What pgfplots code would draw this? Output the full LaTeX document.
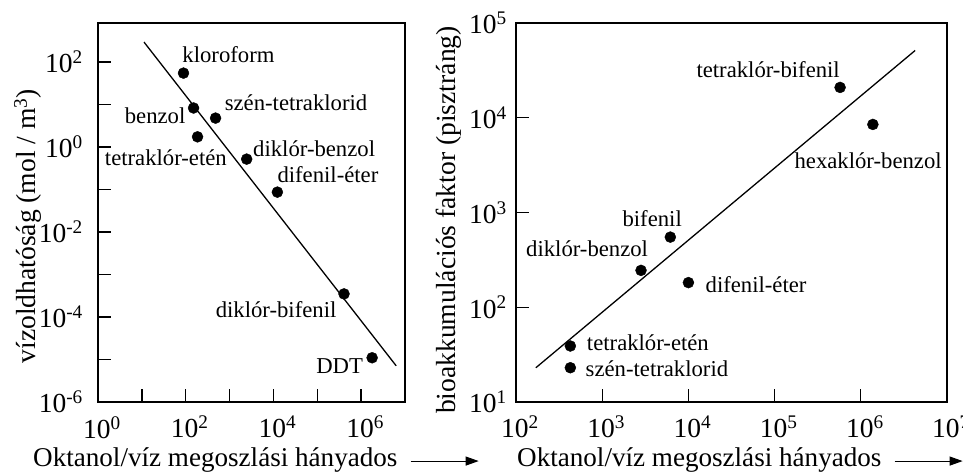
\documentclass[border=0pt]{standalone}
\usepackage{fontspec}
\setmainfont{Liberation Serif}
\usepackage{pgfplots}
\pgfplotsset{compat=1.18}
\usetikzlibrary{arrows.meta}
\newcommand{\e}[1]{10\textsuperscript{#1}}
\newcommand{\tickf}{\fontsize{27.5}{30}\selectfont}
\newcommand{\labf}{\fontsize{27.1}{31}\selectfont}
\newcommand{\ylabf}{\fontsize{27.6}{31}\selectfont}
\tikzset{
  lbl/.style={anchor=base, inner sep=0pt, font=\fontsize{22.7}{26}\selectfont},
  arr/.style={line width=1.1pt, -{Stealth[length=13pt,width=9pt,inset=0pt]}},
}
\pgfplotsset{
  every axis/.append style={scale only axis, clip=false,
    axis line style={line width=1.6pt},
    tick align=inside, tick pos=left,
    major tick length=13pt,
    xminorticks=false, yminorticks=false,
    xticklabel style={font=\tickf, anchor=north, inner sep=0pt, yshift=-14pt, xshift=4pt},
    height=379pt,
  },
  every tick/.style={line width=1.3pt, black},
}
\begin{document}
\begin{tikzpicture}
\useasboundingbox (0,0) rectangle (963pt,-471pt);
% Left chart
\begin{axis}[xmode=log, ymode=log, at={(98pt,-402pt)}, anchor=south west, width=307pt,
  xmin=1, xmax=1e7, ymin=1e-6, ymax=830,
  xtick={1,10,100,1000,1e4,1e5,1e6,1e7},
  xticklabels={\e{0},,\e{2},,\e{4},,\e{6},},
  ytick={1e-6,1e-5,1e-4,1e-3,1e-2,1e-1,1,10,100},
  yticklabels={\e{-6},,\e{-4},,\e{-2},,\e{0},,\e{2}},
  yticklabel style={font=\tickf, anchor=east, inner sep=0pt, xshift=-15pt},
  xlabel={Oktanol/víz megoszlási hányados},
  xlabel style={name=xlL, font=\labf, at={(axis description cs:-0.2117,-0.169)}, anchor=base west, inner sep=0pt},
  ylabel={vízoldhatóság (mol / m\textsuperscript{3})},
  ylabel style={font=\ylabf, at={(axis description cs:-0.228,0.464)}, anchor=center, inner sep=0pt},
]
\addplot[black, line width=1.3pt, no marks] coordinates {(11.2,295) (6.3e6,7.1e-6)};
\addplot[only marks, mark=*, mark size=5.5pt, black] coordinates {
  (89,55) (151,8.3) (479,4.8) (186,1.74) (2455,0.52) (12300,0.087) (407000,3.5e-4) (1.78e6,1.1e-5)};
\node[lbl] at (axis description cs:0.425,0.897) {kloroform};
\node[lbl] at (axis description cs:0.186,0.736) {benzol};
\node[lbl] at (axis description cs:0.645,0.770) {szén-tetraklorid};
\node[lbl] at (axis description cs:0.221,0.625) {tetraklór-etén};
\node[lbl] at (axis description cs:0.704,0.649) {diklór-benzol};
\node[lbl] at (axis description cs:0.749,0.578) {difenil-éter};
\node[lbl] at (axis description cs:0.580,0.224) {diklór-bifenil};
\node[lbl] at (axis description cs:0.787,0.0765) {DDT};
\end{axis}
\draw[arr] ([xshift=13pt,yshift=5pt]xlL.base east) -- ++(68pt,0pt);
% Right chart
\begin{axis}[xmode=log, ymode=log, at={(516pt,-402pt)}, anchor=south west, width=431pt,
  xmin=100, xmax=1e7, ymin=10, ymax=1e5,
  xtick={100,1000,1e4,1e5,1e6,1e7},
  xticklabels={\e{2},\e{3},\e{4},\e{5},\e{6},\e{7}},
  ytick={10,100,1000,1e4,1e5},
  yticklabels={\e{1},\e{2},\e{3},\e{4},\e{5}},
  yticklabel style={font=\tickf, anchor=east, inner sep=0pt, xshift=-9pt},
  xlabel={Oktanol/víz megoszlási hányados},
  xlabel style={name=xlR, font=\labf, at={(axis description cs:0.0023,-0.169)}, anchor=base west, inner sep=0pt},
  ylabel={bioakkumulációs faktor (pisztráng)},
  ylabel style={font=\ylabf, at={(axis description cs:-0.155,0.48)}, anchor=center, inner sep=0pt},
]
\addplot[black, line width=1.3pt, no marks] coordinates {(170,23) (4.27e6,51300)};
\addplot[only marks, mark=*, mark size=5.5pt, black] coordinates {
  (5.75e5,20900) (1.38e6,8500) (6170,550) (2820,245) (10000,182) (427,39) (427,23)};
\node[lbl] at (axis description cs:0.585,0.855) {tetraklór-bifenil};
\node[lbl] at (axis description cs:0.817,0.617) {hexaklór-benzol};
\node[lbl] at (axis description cs:0.316,0.462) {bifenil};
\node[lbl] at (axis description cs:0.165,0.383) {diklór-benzol};
\node[lbl] at (axis description cs:0.557,0.290) {difenil-éter};
\node[lbl] at (axis description cs:0.306,0.137) {tetraklór-etén};
\node[lbl] at (axis description cs:0.327,0.066) {szén-tetraklorid};
\end{axis}
\draw[arr] ([xshift=13pt,yshift=5pt]xlR.base east) -- ++(68pt,0pt);
\end{tikzpicture}
\end{document}
